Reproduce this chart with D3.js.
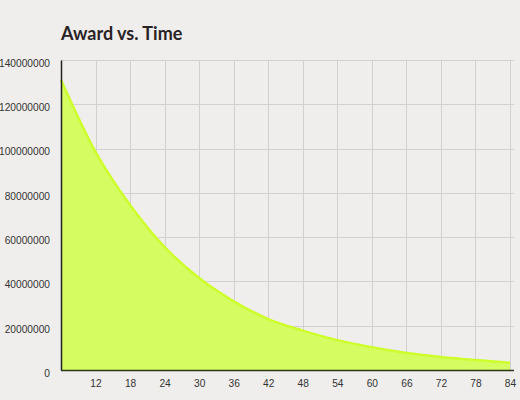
<!DOCTYPE html>
<html>
<head>
<meta charset="utf-8">
<script src="https://cdn.jsdelivr.net/npm/d3@7"></script>
<style>
  html, body { margin: 0; padding: 0; background: #f0eeec; }
  svg { display: block; }
</style>
</head>
<body>
<svg id="chart" width="520" height="400"></svg>
<script>
const months = [6, 12, 18, 24, 30, 36, 42, 48, 54, 60, 66, 72, 78, 84];
const awards = [131000000, 98500000, 74500000, 55500000, 41500000, 31000000, 23000000,
                17800000, 13500000, 10300000, 7700000, 5900000, 4500000, 3300000];
const xTicks = [12, 18, 24, 30, 36, 42, 48, 54, 60, 66, 72, 78, 84];
const yTicks = [0, 20000000, 40000000, 60000000, 80000000, 100000000, 120000000, 140000000];
const title = "Award vs. Time";

(function () {
const svg = d3.select("#chart");
const mLeft = 61, mRight = 510, mTop = 60, mBottom = 370;

const x = d3.scaleLinear().domain([6, 84]).range([mLeft, mRight]);
const y = d3.scaleLinear().domain([0, 140000000]).range([mBottom, mTop]);

svg.append("rect").attr("width", 520).attr("height", 400).attr("fill", "#f0eeec");

svg.append("text")
  .attr("x", 61).attr("y", 40)
  .attr("font-family", "Lato")
  .attr("font-weight", "bold")
  .attr("font-size", 18)
  .attr("fill", "#2a2326")
  .text(title);

// grid
const grid = svg.append("g").attr("stroke", "#d3d0d3").attr("stroke-width", 1);
grid.selectAll("line.h").data(yTicks.filter(d => d > 0)).join("line")
  .attr("x1", mLeft).attr("x2", mRight + 4)
  .attr("y1", d => Math.round(y(d)) + 0.5).attr("y2", d => Math.round(y(d)) + 0.5);
grid.selectAll("line.v").data(xTicks).join("line")
  .attr("x1", d => Math.round(x(d)) + 0.5).attr("x2", d => Math.round(x(d)) + 0.5)
  .attr("y1", mTop).attr("y2", mBottom);

// area
const pts = months.map((m, i) => [m, awards[i]]);
const area = d3.area().x(d => x(d[0])).y0(y(0)).y1(d => y(d[1])).curve(d3.curveMonotoneX);
const line = d3.line().x(d => x(d[0])).y(d => y(d[1])).curve(d3.curveMonotoneX);
svg.append("path").datum(pts).attr("d", area).attr("fill", "#d5fc60");
svg.append("path").datum(pts).attr("d", line).attr("fill", "none")
  .attr("stroke", "#cdfd2c").attr("stroke-width", 2.5);

// axes
const yAxis = d3.axisLeft(y).tickValues(yTicks).tickSize(0).tickPadding(11).tickFormat(d3.format("d"));
const gy = svg.append("g").attr("transform", `translate(${mLeft},0)`).call(yAxis);
gy.select(".domain").attr("stroke", "#222").attr("stroke-width", 1.5);
gy.selectAll("text").attr("font-family", "Liberation Sans, Arial, sans-serif")
  .attr("font-size", 10.2).attr("fill", "#333").attr("dy", "0.62em");

const xAxis = d3.axisBottom(x).tickValues(xTicks).tickSize(0).tickPadding(10);
const gx = svg.append("g").attr("transform", `translate(0,${mBottom})`).call(xAxis);
gx.select(".domain").attr("stroke", "#2a3a1a").attr("stroke-width", 1.5)
  .attr("d", `M${mLeft},0.5H${mRight + 4}`);
gx.selectAll("text").attr("font-family", "Liberation Sans, Arial, sans-serif")
  .attr("font-size", 10.2).attr("fill", "#333");
})();
</script>
</body>
</html>
